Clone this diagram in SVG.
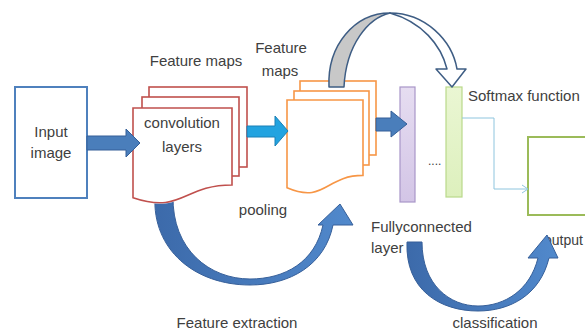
<svg xmlns="http://www.w3.org/2000/svg" width="585" height="330" viewBox="0 0 585 330">
  <style>
    .lbl { font-family: "Liberation Sans", Arial, sans-serif; font-size: 15px; fill: #404040; }
    .mid { text-anchor: middle; }
    .conv { fill: #ffffff; stroke: #c0504d; stroke-width: 1.6; }
    .pool { fill: #ffffff; stroke: #f79646; stroke-width: 1.6; }
    .block { fill: #4a7ebb; stroke: #345f98; stroke-width: 1; }
    .curved { fill: url(#curveFill); stroke: #365f99; stroke-width: 1; }
  </style>
  <defs>
    <linearGradient id="curveFill" x1="0" y1="0" x2="1" y2="0">
      <stop offset="0" stop-color="#3c6aaa"/>
      <stop offset="1" stop-color="#5189cc"/>
    </linearGradient>
    <linearGradient id="fcFill" x1="0" y1="0" x2="0" y2="1">
      <stop offset="0" stop-color="#e6ddf1"/>
      <stop offset="1" stop-color="#d3c5e6"/>
    </linearGradient>
    <linearGradient id="smFill" x1="0" y1="0" x2="0" y2="1">
      <stop offset="0" stop-color="#eaf6d3"/>
      <stop offset="1" stop-color="#ddf0bd"/>
    </linearGradient>
    <!-- hides the part of the lower arrow that sits under the front convolution page -->
    <mask id="underConv" maskUnits="userSpaceOnUse" x="0" y="0" width="585" height="330">
      <rect x="0" y="0" width="585" height="330" fill="#ffffff"/>
      <path d="M133,108 H232 V185 C182.5,185 182.5,214.3 133,197.7 Z" fill="#000000" stroke="#000000" stroke-width="2"/>
    </mask>
  </defs>

  <rect x="0" y="0" width="585" height="330" fill="#ffffff"/>

  <!-- input image -->
  <g id="input-image">
    <rect x="15" y="87" width="72" height="111" fill="#ffffff" stroke="#4f81bd" stroke-width="2"/>
    <text class="lbl mid" x="51" y="137">Input</text>
    <text class="lbl mid" x="51" y="158">image</text>
  </g>

  <!-- convolution layers: stacked pages -->
  <g id="convolution-layers">
    <rect class="conv" x="149" y="87" width="98" height="80"/>
    <rect class="conv" x="142" y="97" width="97" height="79"/>
    <path class="conv" d="M133,108 H232 V185 C182.5,185 182.5,214.3 133,197.7 Z"/>
    <text class="lbl mid" x="182" y="128">convolution</text>
    <text class="lbl mid" x="182" y="152">layers</text>
    <text class="lbl mid" x="196" y="66">Feature maps</text>
  </g>

  <!-- pooling: stacked pages -->
  <g id="pooling">
    <rect class="pool" x="300" y="81" width="76" height="74"/>
    <rect class="pool" x="294" y="91" width="75" height="74"/>
    <path class="pool" d="M287,100 H363 V175.4 C325,175.4 325,204 287,187.8 Z"/>
    <text class="lbl mid" x="281" y="53">Feature</text>
    <text class="lbl mid" x="280" y="76">maps</text>
    <text class="lbl mid" x="263" y="215">pooling</text>
  </g>

  <!-- fully connected layer -->
  <g id="fully-connected">
    <rect x="400" y="87" width="15" height="115" fill="url(#fcFill)" stroke="#a896c8" stroke-width="1.2"/>
    <text class="lbl" x="371" y="232">Fullyconnected</text>
    <text class="lbl" x="371" y="253">layer</text>
  </g>

  <text id="ellipsis" x="428" y="165" font-family="Liberation Sans, Arial, sans-serif" font-size="12" fill="#404040">....</text>

  <!-- softmax layer -->
  <g id="softmax">
    <rect x="446" y="87" width="16" height="110" fill="url(#smFill)" stroke="#b9d98a" stroke-width="1.2"/>
    <text class="lbl" x="468" y="101">Softmax function</text>
  </g>

  <!-- output -->
  <g id="output">
    <rect x="528" y="137" width="70" height="78" fill="#ffffff" stroke="#9bbb59" stroke-width="2"/>
    <text class="lbl" x="544" y="245" style="font-size:14px">output</text>
  </g>

  <g id="stage-labels">
    <text class="lbl mid" x="237" y="328">Feature extraction</text>
    <text class="lbl mid" x="495" y="328">classification</text>
  </g>

  <!-- connectors -->
  <g id="connectors">
    <!-- input to convolution -->
    <path class="block" d="M87,136 H126 V129 L140,143 L126,157 V150 H87 Z"/>
    <!-- convolution to pooling -->
    <path d="M247,126 H275 V116 L288,131 L275,146 V137 H247 Z" fill="#22a3e0" stroke="#1a80b6" stroke-width="1"/>
    <!-- pooling to fully connected -->
    <path class="block" d="M376,118 H391 V111 L407,124 L391,137 V131 H376 Z"/>
    <!-- curved arrow over the top: pooling to softmax -->
    <path d="M329,87 C327,45 355,13 390,13 C368,18 346,45 344,87 Z" fill="#c8c8c8" stroke="#3e5d84" stroke-width="1.5" stroke-linejoin="round"/>
    <path d="M390,13 C425,13 452,40 457,69 L466,69 L452,87 L436,69 L447,69 C441,45 422,22 390,13 Z" fill="#ffffff" stroke="#3e5d84" stroke-width="1.5" stroke-linejoin="round"/>
    <!-- softmax to output -->
    <path d="M462,118 H494 V189 H527" fill="none" stroke="#8ec5de" stroke-width="1"/>
    <path d="M522,185 L528,189 L522,193" fill="none" stroke="#8ec5de" stroke-width="1"/>
    <!-- feature extraction curved arrow -->
    <path class="curved" mask="url(#underConv)" d="M155,196 L173,196 C172,250 210,279 250,279 C285,279 315,262 323,225 L318,225 L340,204 L353,225 L333,225 C325,265 290,285 250,285 C195,285 152,250 155,196 Z"/>
    <!-- classification curved arrow -->
    <path class="curved" d="M407,242 L422,242 C422,285 450,306 478,306 C505,306 530,290 538,258 L528,258 L547,235 L558,258 L549,258 C540,295 510,311 478,311 C440,311 405,290 407,242 Z"/>
  </g>
</svg>
